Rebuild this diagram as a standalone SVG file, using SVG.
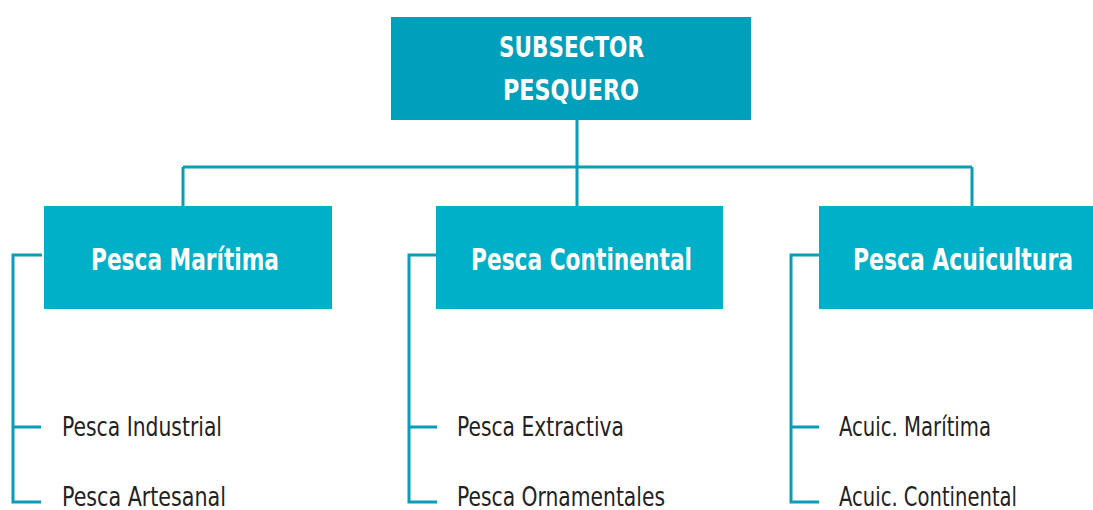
<svg xmlns="http://www.w3.org/2000/svg" width="1093" height="510" viewBox="0 0 1093 510">
<style>
.top{fill:#009fbc}
.box{fill:#00afc8}
.ln{stroke:#0a9dba;stroke-width:3;fill:none}
.tt{font-family:"DejaVu Sans Condensed","Liberation Sans",sans-serif;font-size:29px;font-weight:bold;fill:#fff}
.bt{font-family:"DejaVu Sans Condensed","Liberation Sans",sans-serif;font-size:30px;font-weight:bold;fill:#fff}
.lt{font-family:"DejaVu Sans Condensed","Liberation Sans",sans-serif;font-size:27px;fill:#222}
</style>
<rect width="1093" height="510" fill="#fff"/>
<g id="connectors" class="ln">
<path d="M577 120V167M183 167H972M183 167V206M577 167V206M972 167V206"/>
<path d="M42 255H13V502H41M13 427H41"/>
<path d="M436 255H409V502H437M409 427H437"/>
<path d="M819 255H791V502H819M791 427H819"/>
</g>
<g id="root"><rect class="top" x="391" y="17" width="360" height="103"/>
<text class="tt" x="499" y="57" textLength="145" lengthAdjust="spacingAndGlyphs">SUBSECTOR</text><text class="tt" x="503" y="100" textLength="136" lengthAdjust="spacingAndGlyphs">PESQUERO</text></g>
<g id="maritima"><rect class="box" x="44" y="206" width="288" height="103"/><text class="bt" x="91" y="270" textLength="188" lengthAdjust="spacingAndGlyphs">Pesca Marítima</text></g>
<g id="continental"><rect class="box" x="436" y="206" width="287" height="103"/><text class="bt" x="471" y="270" textLength="221" lengthAdjust="spacingAndGlyphs">Pesca Continental</text></g>
<g id="acuicultura"><rect class="box" x="819" y="206" width="274" height="103"/><text class="bt" x="853" y="270" textLength="220" lengthAdjust="spacingAndGlyphs">Pesca Acuicultura</text></g>
<g id="industrial"><text class="lt" x="62" y="436" textLength="160" lengthAdjust="spacingAndGlyphs">Pesca Industrial</text></g>
<g id="artesanal"><text class="lt" x="62" y="506" textLength="164" lengthAdjust="spacingAndGlyphs">Pesca Artesanal</text></g>
<g id="extractiva"><text class="lt" x="457" y="436" textLength="167" lengthAdjust="spacingAndGlyphs">Pesca Extractiva</text></g>
<g id="ornamentales"><text class="lt" x="457" y="506" textLength="208" lengthAdjust="spacingAndGlyphs">Pesca Ornamentales</text></g>
<g id="acuic-maritima"><text class="lt" x="839" y="436" textLength="152" lengthAdjust="spacingAndGlyphs">Acuic. Marítima</text></g>
<g id="acuic-continental"><text class="lt" x="839" y="506" textLength="178" lengthAdjust="spacingAndGlyphs">Acuic. Continental</text></g>
</svg>
